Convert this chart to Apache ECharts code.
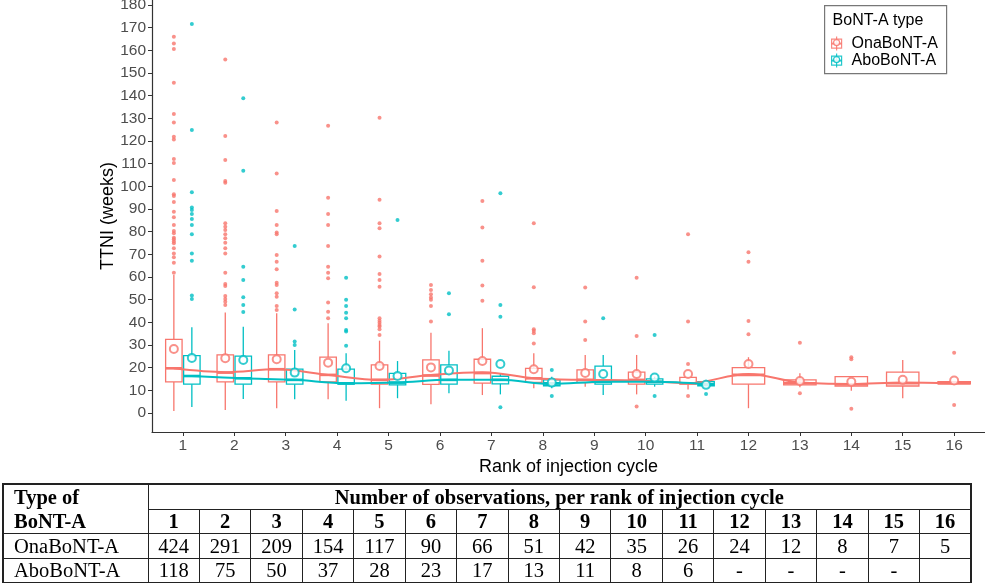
<!DOCTYPE html>
<html>
<head>
<meta charset="utf-8">
<script src="https://cdn.jsdelivr.net/npm/echarts@6/dist/echarts.min.js"></script>
<style>
  body { margin: 0; background: #fff; }
  #wrap { position: relative; width: 985px; height: 583px; }
  #chart { position: absolute; left: 0; top: 0; width: 985px; height: 583px; }
  #counts {
    position: absolute; left: 2px; top: 483px; width: 970px;
    border-collapse: collapse; table-layout: fixed;
    border: 2px solid #222;
    font-family: "Liberation Serif", "Times New Roman", serif;
    font-size: 20.5px; color: #000;
  }
  #counts td {
    border: 1px solid #222; height: 23.5px; padding: 0;
    line-height: 22px; text-align: center; white-space: nowrap;
  }
  #counts td.first { text-align: left; padding-left: 10px; }
  #counts .b { font-weight: bold; }
</style>
</head>
<body>
<div id="wrap">
  <div id="chart"></div>
  <table id="counts"></table>
</div>
<script>
// rank of injection cycle
var ranks = [1, 2, 3, 4, 5, 6, 7, 8, 9, 10, 11, 12, 13, 14, 15, 16];
var yTicks = [0, 10, 20, 30, 40, 50, 60, 70, 80, 90, 100, 110, 120, 130, 140, 150, 160, 170, 180];

// boxplot stats per rank: [low whisker, q1, median, q3, high whisker]
var onaBox = [
  [0.9, 13.7, 19.7, 32.5, 60.9],
  [1.3, 13.7, 17.8, 25.6, 44.3],
  [2.1, 13.7, 19.3, 25.6, 44.0],
  [6.0, 13.7, 16.8, 24.6, 39.6],
  [2.1, 12.7, 14.6, 21.2, 31.9],
  [3.8, 12.6, 16.5, 23.4, 35.4],
  [7.9, 13.2, 17.6, 23.7, 37.4],
  [10.9, 13.5, 15.3, 19.7, 26.3],
  [11.6, 13.4, 14.6, 19.0, 25.6],
  [8.2, 12.7, 14.6, 18.0, 25.6],
  [10.4, 12.7, 13.1, 15.7, 15.7],
  [2.1, 12.7, 16.8, 20.0, 24.6],
  [11.3, 12.4, 13.1, 14.6, 17.5],
  [9.8, 11.9, 12.7, 16.0, 16.0],
  [6.5, 11.9, 13.1, 18.0, 23.4],
  [12.8, 12.8, 13.1, 13.8, 13.8]
];
var aboBox = [
  [2.6, 12.7, 16.3, 25.3, 37.8],
  [6.2, 12.7, 15.3, 25.1, 38.0],
  [6.0, 12.7, 14.6, 19.3, 27.8],
  [5.4, 12.7, 13.1, 19.3, 26.3],
  [6.5, 12.4, 13.4, 17.5, 22.9],
  [8.7, 12.7, 14.6, 21.2, 27.5],
  [8.2, 12.8, 14.6, 16.2, 17.6],
  [10.9, 12.0, 13.1, 14.6, 16.0],
  [7.9, 12.7, 13.8, 20.7, 25.6],
  [11.6, 12.7, 13.8, 15.0, 16.0],
  [12.0, 12.0, 12.7, 13.8, 14.6]
];

// means per rank
var onaMean = [28.2, 24.1, 23.7, 22.2, 20.7, 20.1, 22.9, 19.3, 17.6, 17.2, 17.2, 21.6, 14.1, 13.8, 14.6, 14.3];
var aboMean = [24.3, 23.4, 17.8, 19.7, 16.3, 18.7, 21.6, 13.4, 17.2, 15.6, 12.4];

// smoothed trend through medians
var onaTrend = [19.7, 18.0, 19.3, 16.8, 14.6, 16.8, 18.0, 15.3, 14.6, 14.3, 13.1, 17.2, 13.4, 12.8, 13.4, 13.1];
var aboTrend = [16.3, 15.3, 14.6, 13.1, 13.4, 14.6, 14.6, 12.8, 13.8, 13.8, 12.8];

// outliers: [rank, weeks]
var onaOutliers = [
  [1, 166], [1, 163], [1, 160.6], [1, 145.7], [1, 131.9], [1, 128.1], [1, 121.9], [1, 120.7],
  [1, 112], [1, 110.3], [1, 102.8], [1, 96.5], [1, 95.7], [1, 93.1], [1, 88.8], [1, 86.3],
  [1, 82.9], [1, 80.3], [1, 79.3], [1, 77.3], [1, 76.6], [1, 75.6], [1, 74.9], [1, 72.7],
  [1, 70.4], [1, 68.7], [1, 66.3], [1, 61.9],
  [2, 155.9], [2, 122.2], [2, 111.6], [2, 102.3], [2, 101.6], [2, 83.7], [2, 82.2], [2, 80.7],
  [2, 78.8], [2, 77.1], [2, 75.1], [2, 72.7], [2, 70.4], [2, 61.9], [2, 56.9], [2, 56],
  [2, 51.6], [2, 50.3], [2, 49.1], [2, 47.6],
  [3, 128.2], [3, 105.7], [3, 89.1], [3, 82.9], [3, 79.6], [3, 78.8], [3, 69.7], [3, 66.7],
  [3, 63.4], [3, 57.5], [3, 56.5], [3, 52.8], [3, 51.3], [3, 47.2], [3, 45.4],
  [4, 126.7], [4, 95], [4, 87.8], [4, 82.9], [4, 73.7], [4, 64.5], [4, 61.9], [4, 59.4],
  [4, 48.7], [4, 44.7], [4, 41.8],
  [5, 130.3], [5, 94.1], [5, 83.7], [5, 81.5], [5, 69], [5, 61.3], [5, 58.7], [5, 55.7],
  [5, 41.8], [5, 40.7], [5, 39.8], [5, 38.8], [5, 38.1], [5, 36.9], [5, 34.4],
  [6, 56.5], [6, 54.3], [6, 52.4], [6, 50.9], [6, 49.9], [6, 47.2], [6, 40.3],
  [7, 93.5], [7, 81.8], [7, 67.2], [7, 56.2], [7, 49.5],
  [8, 83.7], [8, 55.5], [8, 36.9], [8, 36.2], [8, 35.2], [8, 30.7],
  [9, 55.3], [9, 40.3], [9, 32.2],
  [10, 59.7], [10, 34.0], [10, 2.8],
  [11, 78.8], [11, 40.3], [11, 21.6], [11, 7.5],
  [12, 70.9], [12, 66.7], [12, 40.6], [12, 34.7],
  [13, 31], [13, 8.7],
  [14, 24.6], [14, 23.7], [14, 1.9],
  [16, 26.6], [16, 3.5]
];
var aboOutliers = [
  [1, 171.6], [1, 124.8], [1, 97.4], [1, 90.7], [1, 89.5], [1, 87.8], [1, 85.6], [1, 82.9],
  [1, 78.8], [1, 70.4], [1, 67.2], [1, 51.8], [1, 50.3],
  [2, 138.8], [2, 106.9], [2, 64.5], [2, 58.7], [2, 51.0], [2, 47.6], [2, 44.5],
  [3, 73.7], [3, 45.7], [3, 31.5], [3, 30],
  [4, 59.7], [4, 49.9], [4, 47.2], [4, 44.2], [4, 41.8], [4, 36.6], [4, 35.9], [4, 29.6],
  [5, 85.1],
  [6, 52.8], [6, 43.6],
  [7, 96.9], [7, 47.6], [7, 42.5], [7, 2.5],
  [8, 19], [8, 7.5],
  [9, 41.8],
  [10, 34.4], [10, 7.5],
  [11, 8.4]
];

// number of observations table
var onaCounts = ['424', '291', '209', '154', '117', '90', '66', '51', '42', '35', '26', '24', '12', '8', '7', '5'];
var aboCounts = ['118', '75', '50', '37', '28', '23', '17', '13', '11', '8', '6', '-', '-', '-', '-', ''];

var onaColor = '#F8766D';
var aboColor = '#00BFC4';

// dodge: boxes sit side by side where both types exist
var dodge = 0.175;
function onaX(r) { return r <= aboBox.length ? r - dodge : r; }
function aboX(r) { return r + dodge; }
function halfW(r) { return r <= aboBox.length ? 0.16 : 0.315; }

function boxSeries(name, color, boxes, posFn) {
  var data = boxes.map(function (b, i) {
    var r = ranks[i];
    return [posFn(r)].concat(b).concat([posFn === aboX ? 0.16 : halfW(r)]);
  });
  return {
    type: 'custom',
    name: name,
    data: data,
    z: 2,
    encode: { x: 0, y: [1, 2, 3, 4, 5] },
    renderItem: function (params, api) {
      var x = api.value(0), hw = api.value(6);
      var lo = api.coord([x, api.value(1)]);
      var q1 = api.coord([x, api.value(2)]);
      var md = api.coord([x, api.value(3)]);
      var q3 = api.coord([x, api.value(4)]);
      var hi = api.coord([x, api.value(5)]);
      var left = api.coord([x - hw, 0])[0];
      var right = api.coord([x + hw, 0])[0];
      var st = { stroke: color, lineWidth: 1.3, fill: 'none' };
      return {
        type: 'group',
        children: [
          { type: 'line', shape: { x1: lo[0], y1: lo[1], x2: q1[0], y2: q1[1] }, style: st },
          { type: 'line', shape: { x1: q3[0], y1: q3[1], x2: hi[0], y2: hi[1] }, style: st },
          { type: 'rect', shape: { x: left, y: q3[1], width: right - left, height: q1[1] - q3[1] }, style: st },
          { type: 'line', shape: { x1: left, y1: md[1], x2: right, y2: md[1] }, style: { stroke: color, lineWidth: 2.6 } }
        ]
      };
    }
  };
}

function legendKey(x, y, color) {
  var st = { stroke: color, lineWidth: 1.2, fill: 'none', opacity: 0.85 };
  return [
    { type: 'line', shape: { x1: x, y1: y - 7, x2: x, y2: y + 7 }, style: st },
    { type: 'rect', shape: { x: x - 5, y: y - 4.5, width: 10, height: 9 }, style: st },
    { type: 'line', shape: { x1: x - 5, y1: y, x2: x + 5, y2: y }, style: { stroke: color, lineWidth: 2, opacity: 0.85 } },
    { type: 'circle', shape: { cx: x, cy: y - 1, r: 3 }, style: { stroke: color, lineWidth: 1.2, fill: '#fff', opacity: 0.85 } }
  ];
}

var chart = echarts.init(document.getElementById('chart'));
var option = {
  animation: false,
  backgroundColor: '#fff',
  textStyle: { fontFamily: 'Liberation Sans, Arial, sans-serif' },
  grid: { left: 152, right: 0, top: 0, bottom: 151, outerBoundsMode: 'none' },
  xAxis: {
    type: 'value',
    min: 0.4,
    max: 16.6,
    name: 'Rank of injection cycle',
    nameLocation: 'middle',
    nameGap: 26,
    nameMoveOverlap: false,
    nameTextStyle: { fontSize: 18, color: '#000' },
    axisLine: { onZero: false, lineStyle: { color: '#333', width: 1.2 } },
    axisTick: { length: 4, customValues: ranks, lineStyle: { color: '#333' } },
    axisLabel: { customValues: ranks, fontSize: 15.5, color: '#4d4d4d', margin: 6 },
    splitLine: { show: false }
  },
  yAxis: {
    type: 'value',
    min: -8.4,
    max: 182.2,
    name: 'TTNI (weeks)',
    nameLocation: 'middle',
    nameGap: 35,
    nameMoveOverlap: false,
    nameTextStyle: { fontSize: 18, color: '#000' },
    axisLine: { show: true, lineStyle: { color: '#333', width: 1.2 } },
    axisTick: { show: true, length: 4, customValues: yTicks, lineStyle: { color: '#333' } },
    axisLabel: { customValues: yTicks, fontSize: 15.5, color: '#4d4d4d', margin: 6 },
    splitLine: { show: false }
  },
  series: [
    boxSeries('OnaBoNT-A', onaColor, onaBox, onaX),
    boxSeries('AboBoNT-A', aboColor, aboBox, aboX),
    {
      type: 'line', name: 'OnaBoNT-A trend', z: 3, smooth: 0.35, symbol: 'none',
      lineStyle: { color: onaColor, width: 2 },
      data: onaTrend.map(function (v, i) { return [onaX(ranks[i]), v]; })
    },
    {
      type: 'line', name: 'AboBoNT-A trend', z: 3, smooth: 0.35, symbol: 'none',
      lineStyle: { color: aboColor, width: 2 },
      data: aboTrend.map(function (v, i) { return [aboX(ranks[i]), v]; })
    },
    {
      type: 'scatter', name: 'OnaBoNT-A mean', z: 4, symbol: 'emptyCircle', symbolSize: 8,
      itemStyle: { color: onaColor, borderWidth: 1.3 },
      data: onaMean.map(function (v, i) { return [onaX(ranks[i]), v]; })
    },
    {
      type: 'scatter', name: 'AboBoNT-A mean', z: 4, symbol: 'emptyCircle', symbolSize: 8,
      itemStyle: { color: aboColor, borderWidth: 1.3 },
      data: aboMean.map(function (v, i) { return [aboX(ranks[i]), v]; })
    },
    {
      type: 'scatter', name: 'OnaBoNT-A outliers', z: 4, symbol: 'circle', symbolSize: 4,
      itemStyle: { color: onaColor },
      data: onaOutliers.map(function (p) { return [onaX(p[0]), p[1]]; })
    },
    {
      type: 'scatter', name: 'AboBoNT-A outliers', z: 4, symbol: 'circle', symbolSize: 4,
      itemStyle: { color: aboColor },
      data: aboOutliers.map(function (p) { return [aboX(p[0]), p[1]]; })
    }
  ],
  graphic: [
    {
      type: 'group', left: 824, top: 5, z: 10,
      children: [
        { type: 'rect', shape: { x: 0, y: 0, width: 122, height: 68 }, style: { fill: '#fff', stroke: '#777', lineWidth: 1.2 } },
        { type: 'text', x: 8, y: 15, style: { text: 'BoNT-A type', fontSize: 16, fill: '#000', fontFamily: 'Liberation Sans, Arial', verticalAlign: 'middle' } },
        { type: 'group', children: legendKey(12, 38, onaColor) },
        { type: 'group', children: legendKey(12, 55, aboColor) },
        { type: 'text', x: 27, y: 38, style: { text: 'OnaBoNT-A', fontSize: 16, fill: '#000', fontFamily: 'Liberation Sans, Arial', verticalAlign: 'middle' } },
        { type: 'text', x: 27, y: 55, style: { text: 'AboBoNT-A', fontSize: 16, fill: '#000', fontFamily: 'Liberation Sans, Arial', verticalAlign: 'middle' } }
      ]
    }
  ]
};
chart.setOption(option);

// table of observation counts
var table = document.getElementById('counts');
var html = '<colgroup><col style="width:145px">';
ranks.forEach(function () { html += '<col>'; });
html += '</colgroup>';
html += '<tr><td class="first b" rowspan="2" style="line-height:24px">Type of<br>BoNT-A</td>' +
  '<td class="b" colspan="' + ranks.length + '">Number of observations, per rank of injection cycle</td></tr>';
html += '<tr>' + ranks.map(function (r) { return '<td class="b">' + r + '</td>'; }).join('') + '</tr>';
html += '<tr><td class="first">OnaBoNT-A</td>' + onaCounts.map(function (c) { return '<td>' + c + '</td>'; }).join('') + '</tr>';
html += '<tr><td class="first">AboBoNT-A</td>' + aboCounts.map(function (c) { return '<td>' + c + '</td>'; }).join('') + '</tr>';
table.innerHTML = html;
</script>
</body>
</html>
